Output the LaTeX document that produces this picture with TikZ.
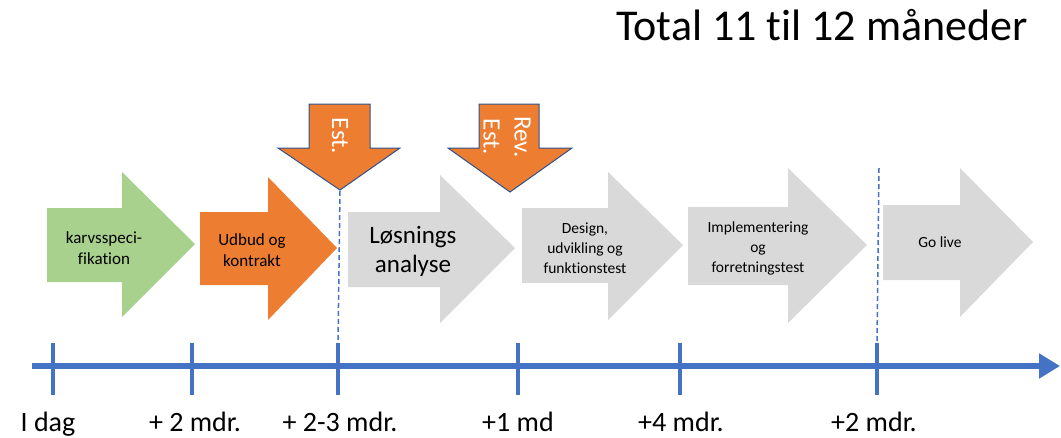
\documentclass[tikz,border=0pt]{standalone}
\usepackage{fontspec}
\setmainfont{Carlito}[Ligatures=NoCommon]
\usepackage{tikz}
\usetikzlibrary{arrows.meta}

\definecolor{axisblue}{HTML}{4472C4}
\definecolor{edgeblue}{HTML}{2F528F}
\definecolor{phaseorange}{HTML}{ED7D31}
\definecolor{phasegreen}{HTML}{A9D18E}
\definecolor{phasegray}{HTML}{D9D9D9}

\tikzset{
  phasetext/.style={align=center,text=black,inner sep=0pt},
  esttext/.style={align=center,text=white,rotate=-90,inner sep=0pt,font=\fontsize{25}{31}\selectfont},
  estarrow/.style={fill=phaseorange,draw=edgeblue,line width=1pt,line join=miter},
  timeline/.style={draw=axisblue,line width=6pt},
  tickmark/.style={draw=axisblue,line width=4.5pt},
  milestone/.style={draw=axisblue,line width=1.5pt,dash pattern=on 5pt off 3pt},
}

% block arrow: fill, body left, body top, body bottom, head x, head top, head bottom, tip x, tip y
\newcommand{\phasearrow}[9]{%
  \fill[#1] (#2,#3) -- (#5,#3) -- (#5,#6) -- (#8,#9) -- (#5,#7) -- (#5,#4) -- (#2,#4) -- cycle;}

\begin{document}
\begin{tikzpicture}[x=1pt,y=-1pt]
  \useasboundingbox (0,0) rectangle (1061,437);

  % title
  \node[anchor=base east,inner sep=0pt,font=\fontsize{44}{52}\selectfont] (title) at (1028,40) {Total 11 til 12 måneder};

  % phases
  \phasearrow{phasegreen}{47}{208}{282}{122}{172}{317}{195}{244}
  \phasearrow{phaseorange}{200}{212}{285}{268}{177}{320}{337}{248}
  \phasearrow{phasegray}{348}{212}{287}{440}{175}{323}{515}{248}
  \phasearrow{phasegray}{522}{208}{283}{608}{172}{320}{683}{245}
  \phasearrow{phasegray}{688}{207}{285}{788}{168}{323}{867}{245}
  \phasearrow{phasegray}{883}{205}{280}{960}{168}{317}{1033}{242}

  \node[phasetext,font=\fontsize{17}{21}\selectfont] (spec) at (104,248) {karvsspeci-\\fikation};
  \node[phasetext,font=\fontsize{17}{21}\selectfont] (udbud) at (252,250) {Udbud og\\kontrakt};
  \node[phasetext,font=\fontsize{25}{29}\selectfont] (analyse) at (413,251) {Løsnings\\analyse};
  \node[phasetext,font=\fontsize{15.5}{20}\selectfont] (design) at (585,248) {Design,\\udvikling og\\funktionstest};
  \node[phasetext,font=\fontsize{15.5}{20}\selectfont] (impl) at (758,248) {Implementering\\og\\forretningstest};
  \node[phasetext,font=\fontsize{15.5}{20}\selectfont] (golive) at (940,242) {Go live};

  % estimates
  \draw[estarrow] (309,104) -- (370,104) -- (370,148) -- (400,148) -- (340,190) -- (278,148) -- (309,148) -- cycle;
  \draw[estarrow] (479,104) -- (539,104) -- (539,148) -- (572,148) -- (510,192) -- (448,148) -- (479,148) -- cycle;
  \node[esttext] (est) at (340,136) {Est.};
  \node[esttext] (revest) at (507,137) {Rev.\\Est.};

  % time axis
  \coordinate (axisstart) at (32,366);
  \coordinate (axisend) at (1060,366);
  \draw[timeline,-{Triangle[length=21pt,width=24pt]}] (axisstart) -- (axisend);

  \foreach \x/\lx/\name/\txt in {53/48/t0/I dag,192/195/t1/+ 2 mdr.,338/340/t2/+ 2-3 mdr.,518/518/t3/+1 md,680/681/t4/+4 mdr.,877/874/t5/+2 mdr.}{
    \coordinate (\name top) at (\x,343);
    \coordinate (\name bot) at (\x,395);
    \draw[tickmark] (\name top) -- (\name bot);
    \node[anchor=base,inner sep=0pt,font=\fontsize{28}{32}\selectfont] (\name label) at (\lx,431) {\txt};
  }

  % milestones
  \coordinate (mstone) at (879,168);
  \draw[milestone] (340,191) -- (t2top);
  \draw[milestone] (mstone) -- (t5top);
\end{tikzpicture}
\end{document}
